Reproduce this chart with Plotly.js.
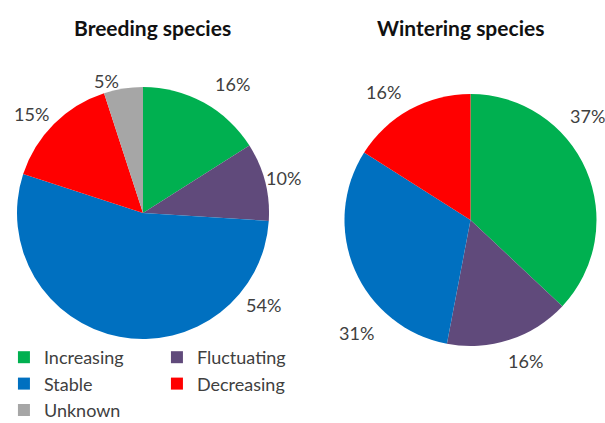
<!DOCTYPE html>
<html><head><meta charset="utf-8">
<script src="https://cdn.plot.ly/plotly-3.0.1.min.js"></script>
<style>html,body{margin:0;padding:0;background:#fff;}#chart{width:605px;height:423px;}</style>
</head><body><div id="chart"></div>
<script>
// ---- data ----
const breedingCategories = ['Increasing', 'Fluctuating', 'Stable', 'Decreasing', 'Unknown'];
const breedingValues = [16, 10, 54, 15, 5];
const winteringCategories = ['Increasing', 'Fluctuating', 'Stable', 'Decreasing'];
const winteringValues = [37, 16, 31, 16];
const chartTitles = ['Breeding species', 'Wintering species'];

// ---- styles / positions ----
const sliceColors = {Increasing: '#00B050', Fluctuating: '#604A7B', Stable: '#0070C0', Decreasing: '#FF0000', Unknown: '#A6A6A6'};
const breedingLabelPos = [[232.5, 83.5], [283.5, 177.5], [263.5, 305], [31.5, 114], [106.5, 81]];
const winteringLabelPos = [[587, 115.5], [525, 360.5], [356, 332.5], [383.5, 91.5]];
const titlePos = [[152.5, 28], [460, 28]];
const W = 605, H = 423, ML = 4;
const px = x => (x - ML) / (W - ML);
const py = y => (H - y) / H;
const FONT = 'Lato, "Open Sans", sans-serif';
const TXT = '#404040';

const traces = [
  {
    type: 'pie', name: chartTitles[0], labels: breedingCategories, values: breedingValues,
    marker: {colors: breedingCategories.map(c => sliceColors[c]), line: {width: 0}},
    sort: false, direction: 'clockwise', rotation: 0, textinfo: 'none', hoverinfo: 'label+value',
    domain: {x: [px(17), px(269)], y: [py(339), py(87)]}
  },
  {
    type: 'pie', name: chartTitles[1], labels: winteringCategories, values: winteringValues,
    marker: {colors: winteringCategories.map(c => sliceColors[c]), line: {width: 0}},
    sort: false, direction: 'clockwise', rotation: 0, textinfo: 'none', hoverinfo: 'label+value',
    domain: {x: [px(344), px(597)], y: [py(346), py(94)]}
  }
];

const annotations = [];
chartTitles.forEach((t, i) => annotations.push({
  text: '<b>' + t + '</b>', x: px(titlePos[i][0]), y: py(titlePos[i][1]), xref: 'paper', yref: 'paper',
  xanchor: 'center', yanchor: 'middle', showarrow: false, font: {family: FONT, size: 21, color: '#111'}
}));
breedingValues.forEach((v, i) => annotations.push({
  text: v + '%', x: px(breedingLabelPos[i][0]), y: py(breedingLabelPos[i][1]), xref: 'paper', yref: 'paper',
  xanchor: 'center', yanchor: 'middle', showarrow: false, font: {family: FONT, size: 18, color: TXT}
}));
winteringValues.forEach((v, i) => annotations.push({
  text: v + '%', x: px(winteringLabelPos[i][0]), y: py(winteringLabelPos[i][1]), xref: 'paper', yref: 'paper',
  xanchor: 'center', yanchor: 'middle', showarrow: false, font: {family: FONT, size: 18, color: TXT}
}));

const layout = {
  width: W, height: H,
  margin: {l: ML, r: 0, t: 0, b: 0, autoexpand: false},
  paper_bgcolor: '#fff', plot_bgcolor: '#fff',
  showlegend: true,
  legend: {
    orientation: 'h', x: -0.0001, xanchor: 'left', y: py(339), yanchor: 'top',
    entrywidth: 108, entrywidthmode: 'pixels', traceorder: 'normal',
    font: {family: FONT, size: 18, color: TXT}, bgcolor: 'rgba(0,0,0,0)'
  },
  annotations: annotations
};

Plotly.newPlot('chart', traces, layout, {displayModeBar: false, staticPlot: true});
</script>
</body></html>
